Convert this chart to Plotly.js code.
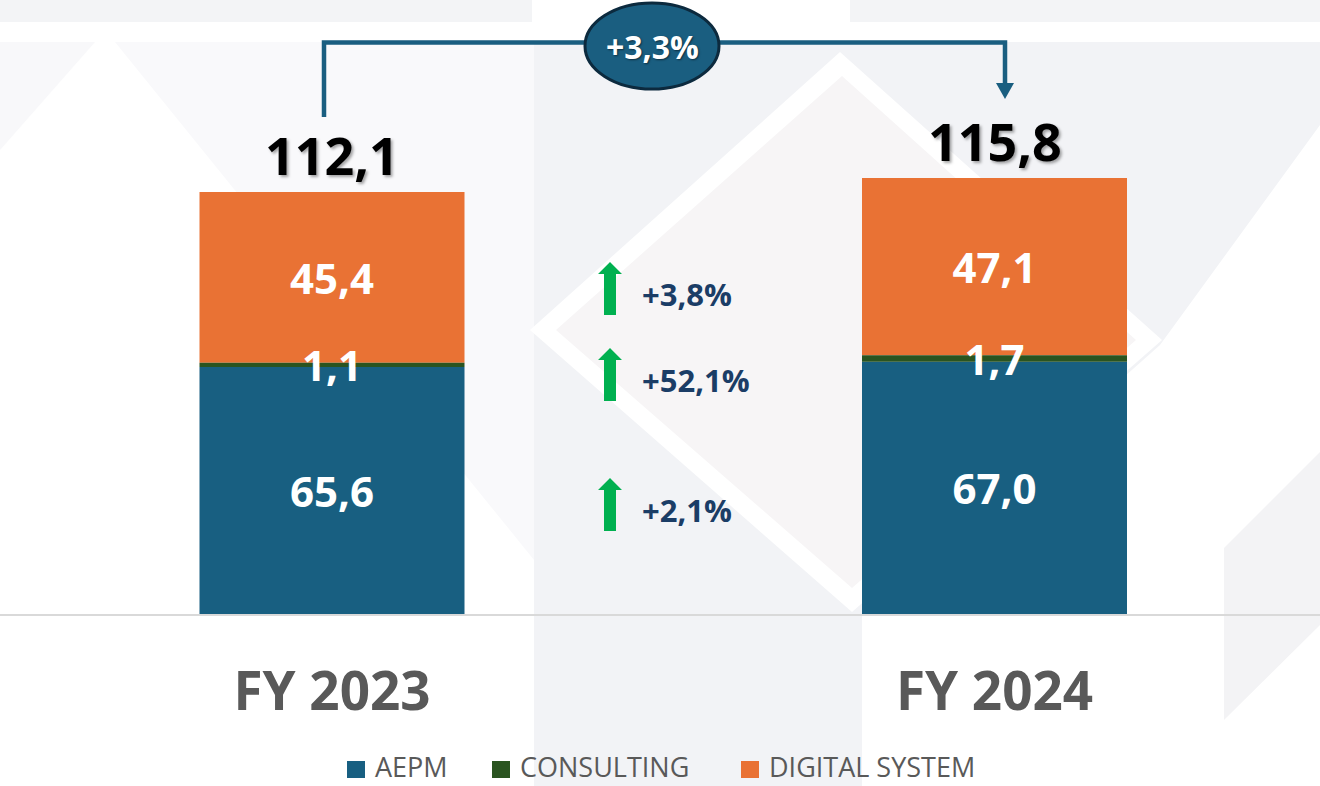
<!DOCTYPE html>
<html><head><meta charset="utf-8">
<script src="https://cdn.plot.ly/plotly-3.0.1.min.js"></script>
<style>html,body{margin:0;padding:0;background:#fff;}#chart{width:1320px;height:786px;}</style>
</head><body><div id="chart"></div>
<script>
// ---- data ----
const categories = ['FY 2023', 'FY 2024'];
const seriesNames = ['AEPM', 'CONSULTING', 'DIGITAL SYSTEM'];
const aepm = [65.6, 67.0];
const consulting = [1.1, 1.7];
const digital = [45.4, 47.1];
const growthLabels = ['+2,1%', '+52,1%', '+3,8%']; // AEPM, CONSULTING, DIGITAL SYSTEM
const totalGrowthLabel = '+3,3%';

// ---- styling ----
const colors = ['#185F81', '#2A5420', '#E97234'];
const FONT = 'Open Sans, Noto Sans, sans-serif';
const W = 1320, BASE = 614, PX_PER_UNIT = 3.765;
const yMax = BASE / PX_PER_UNIT;
const xr = [-332 / 662.5, (W - 332) / 662.5];
const dX = p => xr[0] + p / W * (xr[1] - xr[0]);
const dY = p => (BASE - p) / PX_PER_UNIT;
const pX = p => p / W;
const pY = p => (BASE - p) / BASE;
const poly = pts => 'M' + pts.map(q => pX(q[0]) + ',' + pY(q[1])).join('L') + 'Z';
const fmt = v => v.toFixed(1).replace('.', ',');

const xs = categories.map((c, i) => i);
const totals = xs.map(i => aepm[i] + consulting[i] + digital[i]);

const common = {
  type: 'bar', x: xs, width: 0.4, textposition: 'inside', insidetextanchor: 'middle',
  textangle: 0, constraintext: 'none', cliponaxis: false,
  insidetextfont: {family: FONT, size: 42, color: '#FFFFFF', weight: 700},
  hoverinfo: 'skip', showlegend: false
};
const traces = [
  Object.assign({}, common, {name: seriesNames[0], y: aepm, base: aepm.map(() => 0),
    text: aepm.map(fmt), marker: {color: colors[0], line: {width: 0}}}),
  Object.assign({}, common, {name: seriesNames[2], y: digital, base: aepm.map((v, i) => v + consulting[i]),
    text: digital.map(fmt), marker: {color: colors[2], line: {width: 0}}}),
  Object.assign({}, common, {name: seriesNames[1], y: consulting, base: aepm,
    text: consulting.map(fmt), marker: {color: colors[1], line: {width: 0}}})
];

// ---- decorations ----
const shapes = [];
const bg = (pts, c) => shapes.push({type: 'path', xref: 'paper', yref: 'paper', layer: 'below', path: poly(pts), fillcolor: c, line: {width: 0}});
bg([[0,0],[532,0],[532,22],[0,22]], '#F3F4F6');
bg([[850,0],[1320,0],[1320,22],[850,22]], '#F3F4F6');
bg([[0,42],[95,42],[0,150]], '#F8F8FA');
bg([[115,42],[534,42],[534,560]], '#F9F9FB');
bg([[534,42],[1320,42],[1320,125],[1160,345],[862,610],[862,786],[534,786]], '#F2F3F6');
bg([[530,330],[840,52],[1162,340],[852,612]], '#FFFFFF');
bg([[556,330],[842,76],[1136,340],[852,588]], '#F7F5F6');
bg([[1224,548],[1320,452],[1320,625],[1224,720]], '#F3F3F5');

// growth arrows
const growthY = [510, 380, 294];
growthY.forEach(py => shapes.push({type: 'path', xref: 'x', yref: 'y', xsizemode: 'pixel', ysizemode: 'pixel',
  xanchor: dX(610), yanchor: dY(py), path: 'M-6,-21L6,-21L6,20L12,20L0,32L-12,20L-6,20Z',
  fillcolor: '#00B050', line: {width: 0}}));

// connector
const xL = dX(324), xR = dX(1005), yTop = dY(42.5);
const yLb = totals[0] + 19.9, yTip = totals[1] + 21;
shapes.push({type: 'path', xref: 'x', yref: 'y', path: `M${xL},${yLb}L${xL},${yTop}L${xR},${yTop}L${xR},${yTip + 16/PX_PER_UNIT}`,
  line: {color: '#1A5E80', width: 4.5}, fillcolor: 'rgba(0,0,0,0)'});
shapes.push({type: 'path', xref: 'x', yref: 'y', xsizemode: 'pixel', ysizemode: 'pixel', xanchor: xR, yanchor: yTip,
  path: 'M-9,16L9,16L0,0Z', fillcolor: '#1A5E80', line: {width: 0}});
shapes.push({type: 'circle', xref: 'x', yref: 'y', xsizemode: 'pixel', ysizemode: 'pixel', xanchor: dX(652), yanchor: dY(46),
  x0: -67, x1: 67, y0: -43, y1: 43, fillcolor: '#1A5E80', line: {color: '#0C2A3E', width: 3}});

// legend (custom)
const legX = [347, 492, 741];
const annotations = [];
seriesNames.forEach((n, i) => {
  shapes.push({type: 'rect', xref: 'paper', yref: 'paper', x0: pX(legX[i]), x1: pX(legX[i] + 18), y0: pY(778), y1: pY(761),
    fillcolor: colors[i], line: {width: 0}});
  annotations.push({xref: 'paper', yref: 'paper', x: pX(legX[i] + 26), y: pY(767), xanchor: 'left', yanchor: 'middle',
    text: n, showarrow: false, font: {family: FONT, size: 27, color: '#595959'}});
});

// totals
xs.forEach(i => annotations.push({x: i, y: totals[i], xref: 'x', yref: 'y', yanchor: 'bottom', showarrow: false,
  text: fmt(totals[i]), font: {family: FONT, size: 52, color: '#000000', weight: 700, shadow: '2px 2px 3px rgba(0,0,0,0.35)'}}));
// growth labels
growthLabels.forEach((t, i) => annotations.push({x: dX(640), y: dY(growthY[i]), xref: 'x', yref: 'y', xanchor: 'left',
  yanchor: 'middle', showarrow: false, text: t, font: {family: FONT, size: 31, color: '#1B3D66', weight: 700}}));
annotations.push({x: dX(652), y: dY(46), xref: 'x', yref: 'y', showarrow: false, text: totalGrowthLabel,
  font: {family: FONT, size: 32, color: '#FFFFFF', weight: 700, shadow: '1px 1px 2px rgba(0,0,0,0.5)'}});

const layout = {
  width: 1320, height: 786, margin: {l: 0, r: 0, t: 0, b: 172},
  paper_bgcolor: '#FFFFFF', plot_bgcolor: 'rgba(0,0,0,0)', barmode: 'overlay', showlegend: false,
  xaxis: {type: 'linear', range: xr, tickvals: xs, ticktext: categories, showgrid: false, zeroline: false,
    showline: true, linecolor: '#D9D9D9', linewidth: 2, layer: 'below traces', ticks: '', ticklabelstandoff: 30,
    tickfont: {family: FONT, size: 53, color: '#595959', weight: 700}, fixedrange: true},
  yaxis: {range: [0, yMax], visible: false, fixedrange: true},
  shapes: shapes, annotations: annotations
};
Plotly.newPlot('chart', traces, layout, {displayModeBar: false, staticPlot: true});
</script></body></html>
